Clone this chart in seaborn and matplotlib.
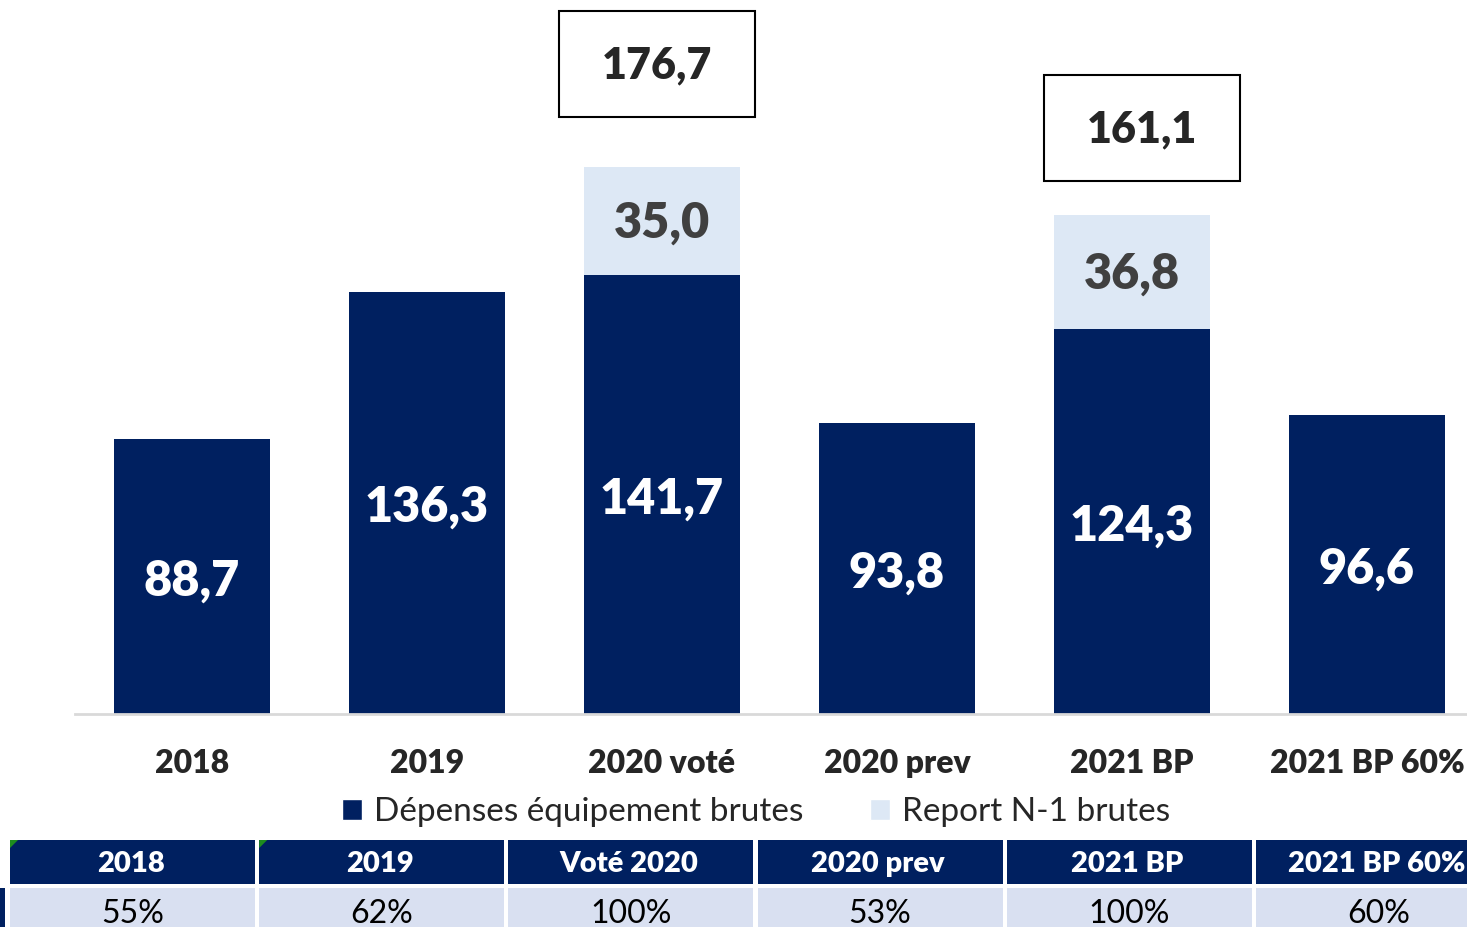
import matplotlib
matplotlib.use('Agg')
import matplotlib.pyplot as plt
import seaborn as sns
import pandas as pd
from matplotlib.patches import Patch, Rectangle, Polygon

# données (M€)
categories = ['2018', '2019', '2020 voté', '2020 prev', '2021 BP', '2021 BP 60%']
depenses = [88.7, 136.3, 141.7, 93.8, 124.3, 96.6]
reports = [0.0, 0.0, 35.0, 0.0, 36.8, 0.0]
table_headers = ['2018', '2019', 'Voté 2020', '2020 prev', '2021 BP', '2021 BP 60%']
table_values = ['55%', '62%', '100%', '53%', '100%', '60%']
legend_labels = ['Dépenses équipement brutes', 'Report N-1 brutes']

NAVY = '#002060'
LIGHT = '#DDE8F5'
GREY_TXT = '#404040'
ROW_BG = '#D9E0F1'

sns.set_style('white')
plt.rcParams['font.family'] = ['Lato', 'DejaVu Sans']


def fmt(v):
    return f"{v:.1f}".replace('.', ',')


df = pd.DataFrame({'cat': categories, 'base': depenses, 'report': reports})
df['total'] = df['base'] + df['report']

fig = plt.figure(figsize=(14.67, 9.27), dpi=100)
ax = fig.add_axes([75 / 1467, 213 / 927, 1 - 75 / 1467, 714 / 927])

bar_w = 0.664
# barre totale (claire) puis la partie dépenses (foncée) par-dessus
sns.barplot(data=df, x='cat', y='total', color=LIGHT, saturation=1,
            width=bar_w, linewidth=0, ax=ax)
sns.barplot(data=df, x='cat', y='base', color=NAVY, saturation=1,
            width=bar_w, linewidth=0, ax=ax)

ax.set_xlim(-0.498, 5.426)
ax.set_ylim(0, 230.5)
ax.set_xlabel('')
ax.set_ylabel('')
ax.set_yticks([])
for s in ['top', 'right', 'left']:
    ax.spines[s].set_visible(False)
ax.spines['bottom'].set_color('#D9D9D9')
ax.spines['bottom'].set_linewidth(2)
ax.tick_params(axis='x', length=0, pad=25, labelsize=23)
for lab in ax.get_xticklabels():
    lab.set_fontweight('heavy')

# étiquettes des barres
for i, row in df.iterrows():
    ax.text(i, row['base'] / 2 - 1.5, fmt(row['base']), ha='center', va='center',
            color='white', fontsize=35, fontweight='heavy')
    if row['report'] > 0:
        ax.text(i, row['base'] + row['report'] / 2 - 0.8, fmt(row['report']),
                ha='center', va='center', color=GREY_TXT, fontsize=35,
                fontweight='heavy')

# encadrés des totaux : (écart vertical, décalage horizontal)
box_pos = {2: (16, -0.02), 4: (11, 0.043)}
box_w, box_h = 0.834, 34.2
for i, (gap, dx) in box_pos.items():
    tot = df.loc[i, 'total']
    y0 = tot + gap
    ax.add_patch(Rectangle((i + dx - box_w / 2, y0), box_w, box_h,
                           facecolor='white', edgecolor='black', lw=1.5,
                           clip_on=False, zorder=5))
    ax.text(i + dx, y0 + box_h / 2 - 0.5, fmt(tot), ha='center',
            va='center', fontsize=31, fontweight='heavy', zorder=6)

# légende
handles = [Patch(facecolor=NAVY), Patch(facecolor=LIGHT)]
fig.legend(handles, legend_labels, loc='center', ncol=2, frameon=False,
           bbox_to_anchor=(756 / 1467, 1 - 812 / 927), fontsize=24,
           handlelength=0.6, handleheight=0.6, handletextpad=0.35,
           columnspacing=2.0, borderaxespad=0)

# tableau
tax = fig.add_axes([0, 0, 1, 87 / 927])
tax.set_xlim(0, 1467)
tax.set_ylim(87, 0)
tax.axis('off')
col_x0, col_step, col_w = 10, 249.2, 245
for j, (h, v) in enumerate(zip(table_headers, table_values)):
    x0 = col_x0 + j * col_step
    tax.add_patch(Rectangle((x0, 0), col_w, 44, facecolor=NAVY, lw=0))
    tax.add_patch(Rectangle((x0, 48), col_w, 45, facecolor=ROW_BG, lw=0))
    tax.text(x0 + col_w / 2 - 2, 24, h, ha='center', va='center', color='white',
             fontsize=21, fontweight='heavy')
    tax.text(x0 + col_w / 2, 74, v, ha='center', va='center', color='black',
             fontsize=23)
    if j < 2:
        tax.add_patch(Polygon([[x0, 0], [x0 + 8, 0], [x0, 8]], closed=True,
                              facecolor='#1E8C1E', lw=0))
tax.add_patch(Rectangle((0, 48), 5, 45, facecolor=NAVY, lw=0))

fig.savefig('out.png', dpi=100, facecolor='white')
